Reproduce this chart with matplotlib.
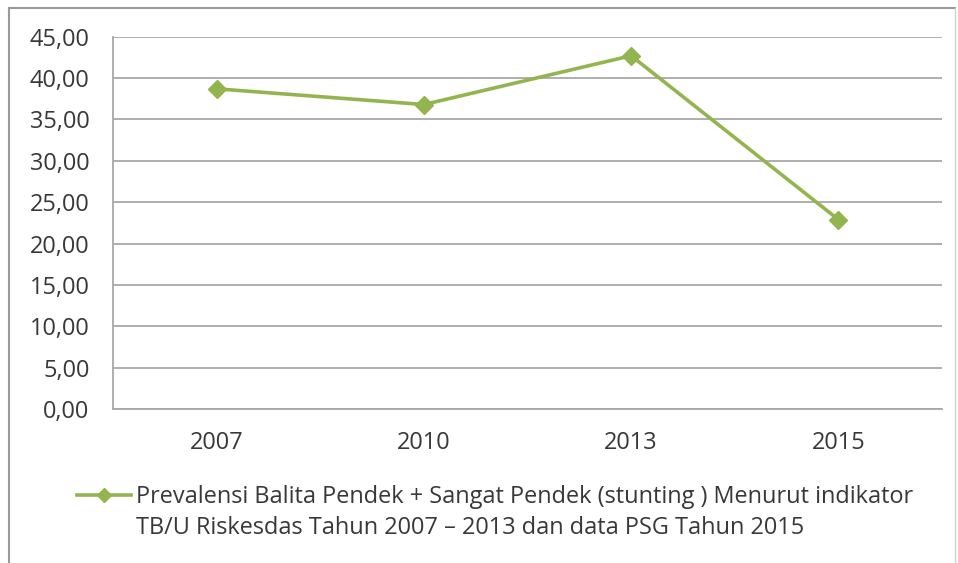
import matplotlib
matplotlib.use("Agg")
import matplotlib.pyplot as plt
from matplotlib.lines import Line2D

years = ["2007", "2010", "2013", "2015"]
values = [38.7, 36.8, 42.7, 22.9]
yticks = [0, 5, 10, 15, 20, 25, 30, 35, 40, 45]
label_line1 = "Prevalensi Balita Pendek + Sangat Pendek (stunting ) Menurut indikator"
label_line2 = "TB/U Riskesdas Tahun 2007 – 2013 dan data PSG Tahun 2015"

plt.rcParams["font.family"] = ["Open Sans", "DejaVu Sans"]

green = "#93B550"
grid_c = "#A8A8A8"
text_c = "#383838"
FS = 16.9

fig = plt.figure(figsize=(9.58, 5.63), dpi=100)
ax = fig.add_axes([113/958, 1-409/563, (942-113)/958, (409-36.7)/563])

x = list(range(len(years)))
ax.plot(x, values, color=green, lw=2.6, marker="D", markersize=9,
        markerfacecolor=green, markeredgecolor=green, zorder=3)

ax.set_xlim(-0.5, len(years)-0.5)
ax.set_ylim(0, 45)
ax.set_yticks(yticks)
ax.set_yticklabels([f"{v:.2f}".replace(".", ",") for v in yticks])
ax.set_xticks(x)
ax.set_xticklabels(years)
ax.yaxis.grid(True, color=grid_c, lw=1.3)
ax.set_axisbelow(True)
for s in ["top", "right"]:
    ax.spines[s].set_visible(False)
for s in ["left", "bottom"]:
    ax.spines[s].set_color(grid_c)
    ax.spines[s].set_linewidth(1.3)
ax.tick_params(axis="both", length=0, labelsize=FS, colors=text_c)
ax.tick_params(axis="y", pad=17)
ax.tick_params(axis="x", pad=16)

handle = Line2D([], [], color=green, lw=2.6, marker="D", markersize=7)
leg = fig.legend([handle], [label_line1], loc="center left",
                 bbox_to_anchor=(77/958, 1-497/563), frameon=False,
                 fontsize=FS, handlelength=2.3, handletextpad=0.2,
                 labelcolor=text_c, borderpad=0, borderaxespad=0)

fig.canvas.draw()
r = fig.canvas.get_renderer()
tb = leg.get_texts()[0].get_window_extent(r)
fig.text(tb.x0 / fig.bbox.width, 1-528/563, label_line2, fontsize=FS,
         color=text_c, ha="left", va="center")

fig.add_artist(Line2D([9/958, 9/958], [0, 1-8/563], color="#9A9A9A", lw=1.5, transform=fig.transFigure))
fig.add_artist(Line2D([9/958, 955/958], [1-8/563, 1-8/563], color="#9A9A9A", lw=1.5, transform=fig.transFigure))
fig.add_artist(Line2D([955/958, 955/958], [0, 1-8/563], color="#D0D0D0", lw=1.0, transform=fig.transFigure))

fig.savefig("out.png", dpi=100)
